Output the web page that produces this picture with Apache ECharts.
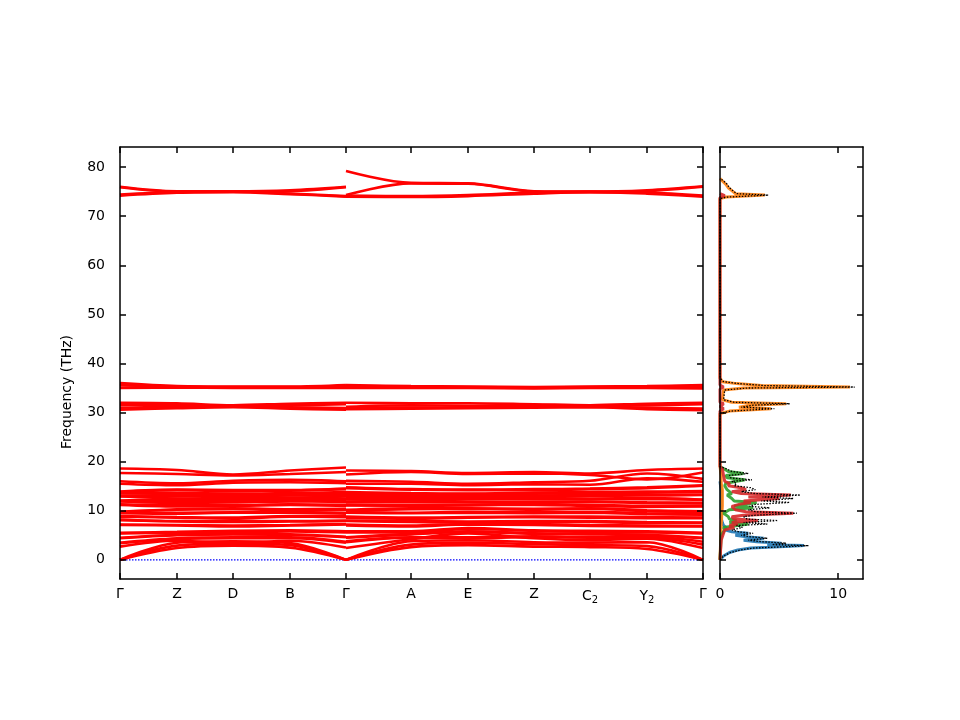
<!DOCTYPE html>
<html>
<head>
<meta charset="utf-8">
<script src="https://cdn.jsdelivr.net/npm/echarts@6/dist/echarts.min.js"></script>
<style>html,body{margin:0;padding:0;background:#fff}#c{width:960px;height:720px}</style>
</head>
<body>
<div id="c"></div>
<script>
// High-symmetry path positions (path distance units) and labels
const kPos = [0, 57, 113, 170, 226, 291, 348, 414, 470, 527, 583];
const kLabels = ['Γ', 'Z', 'D', 'B', 'Γ', 'A', 'E', 'Z', 'C|2', 'Y|2', 'Γ'];
const freqTicks = [0, 10, 20, 30, 40, 50, 60, 70, 80];
const dosTicks = [0, 10];

// Band frequencies (THz) at: Γ Z D B Γ(end seg1) | Γ(start seg2) A E Z C2 Y2 Γ
const bandsAcoustic = [
  [0, 2.4, 2.9, 2.5, 0,   0, 2.6, 3.0, 2.7, 2.6, 2.2, 0],
  [0, 2.9, 3.3, 3.0, 0,   0, 3.1, 3.5, 3.2, 3.0, 2.8, 0],
  [0, 3.5, 3.8, 3.4, 0,   0, 3.8, 4.0, 3.6, 3.5, 3.6, 0]
];
const bandsLow = [
  [2.7, 3.9, 3.4, 3.9, 2.5,   2.4, 4.2, 5.4, 4.4, 4.0, 4.3, 2.4],
  [3.4, 4.2, 4.4, 4.4, 3.5,   3.6, 4.5, 4.4, 4.6, 4.5, 4.5, 3.1],
  [3.5, 4.4, 4.6, 4.6, 3.7,   3.8, 4.6, 4.6, 4.8, 4.6, 4.7, 3.7],
  [4.4, 5.0, 5.2, 5.1, 4.6,   4.5, 5.2, 5.7, 5.3, 5.2, 5.0, 4.4],
  [4.5, 5.1, 5.3, 5.2, 4.7,   4.6, 5.3, 5.8, 5.4, 5.3, 5.1, 4.5],
  [5.4, 5.5, 5.6, 5.8, 5.6,   5.6, 5.6, 6.3, 5.9, 5.7, 5.6, 5.4],
  [5.5, 5.7, 5.9, 6.0, 5.8,   5.8, 5.8, 6.5, 6.0, 5.9, 5.8, 5.5]
];
const bandsMid = [
  [7.1, 7.0, 6.8, 7.0, 7.2,   7.0, 6.8, 7.2, 7.1, 6.9, 6.8, 6.8],
  [7.2, 7.1, 7.0, 7.1, 7.3,   7.2, 7.0, 7.3, 7.3, 7.1, 7.0, 6.9],
  [8.1, 7.8, 7.7, 7.8, 7.9,   7.9, 7.7, 7.6, 7.8, 7.7, 7.5, 7.5],
  [8.2, 7.9, 7.9, 7.9, 8.0,   8.0, 7.9, 7.8, 7.9, 7.9, 7.7, 7.6],
  [8.8, 8.6, 8.4, 8.8, 8.7,   8.6, 8.4, 8.6, 8.7, 8.6, 8.5, 8.5],
  [8.9, 8.7, 8.6, 8.9, 8.9,   8.8, 8.6, 8.7, 8.8, 8.8, 8.7, 8.6],
  [9.5, 9.4, 9.6, 9.6, 9.4,   9.6, 9.5, 9.6, 9.5, 9.6, 9.3, 9.2],
  [9.6, 9.6, 9.7, 9.7, 9.6,   9.8, 9.6, 9.8, 9.7, 9.8, 9.5, 9.3],
  [9.7, 10.2, 10.3, 10.1, 10.2, 10.0, 10.3, 10.4, 10.2, 10.4, 9.9, 9.8],
  [9.8, 10.3, 10.5, 10.3, 10.4, 10.2, 10.5, 10.5, 10.4, 10.5, 10.1, 9.9]
];
const bandsUpper = [
  [11.2, 10.9, 11.0, 11.2, 11.0,  11.1, 11.0, 11.1, 11.2, 11.0, 10.8, 10.9],
  [11.3, 11.1, 11.1, 11.3, 11.2,  11.2, 11.2, 11.2, 11.3, 11.2, 11.0, 11.0],
  [11.9, 11.6, 11.7, 11.9, 11.8,  11.7, 11.8, 11.7, 11.6, 11.8, 11.6, 11.5],
  [12.0, 11.8, 11.9, 12.0, 12.0,  11.9, 12.0, 11.9, 11.8, 11.9, 11.7, 11.6],
  [12.1, 12.3, 12.2, 12.4, 12.2,  12.3, 12.3, 12.4, 12.3, 12.3, 12.4, 12.2],
  [12.9, 12.5, 12.4, 12.6, 12.5,  12.6, 12.5, 12.5, 12.6, 12.5, 12.6, 12.3],
  [13.0, 12.9, 12.8, 12.7, 12.9,  12.9, 12.8, 12.8, 12.9, 13.0, 13.1, 13.2],
  [13.1, 13.1, 13.0, 13.1, 13.2,  13.2, 13.1, 13.0, 13.1, 13.2, 13.3, 13.3],
  [13.6, 13.4, 13.3, 13.4, 13.6,  13.6, 13.4, 13.4, 13.5, 13.6, 13.7, 13.9],
  [13.7, 13.6, 13.5, 13.6, 13.8,  13.8, 13.6, 13.5, 13.7, 13.8, 13.9, 14.0],
  [13.8, 14.2, 14.0, 14.1, 14.4,  14.6, 14.3, 14.2, 14.2, 14.4, 14.6, 15.1],
  [13.9, 14.3, 14.2, 14.2, 14.5,  14.8, 14.4, 14.3, 14.4, 14.5, 14.8, 15.2]
];
const bandsHigh = [
  [18.6, 18.3, 17.4, 18.2, 18.8,  18.2, 18.1, 17.7, 17.9, 17.6, 18.3, 18.6],
  [17.7, 17.5, 17.2, 17.5, 17.9,  17.4, 17.9, 17.5, 17.6, 17.3, 16.4, 17.8],
  [16.0, 15.6, 16.1, 16.3, 16.0,  16.1, 15.9, 15.5, 15.8, 16.1, 17.6, 16.5],
  [15.5, 15.2, 15.7, 15.8, 15.6,  15.5, 15.5, 15.2, 15.4, 15.3, 16.6, 15.9]
];
const bands31 = [
  [32.0, 31.9, 31.5, 31.8, 32.0,  32.0, 31.9, 31.9, 31.7, 31.5, 31.8, 32.0],
  [31.6, 31.6, 31.3, 31.5, 31.7,  31.2, 31.5, 31.4, 31.6, 31.3, 31.5, 31.7],
  [31.0, 31.2, 31.2, 31.1, 30.9,  31.0, 31.0, 31.1, 31.2, 31.2, 31.0, 30.8],
  [30.6, 30.9, 31.1, 30.8, 30.6,  30.7, 30.8, 30.9, 31.0, 31.1, 30.7, 30.5]
];
const bands35 = [
  [36.0, 35.4, 35.3, 35.3, 35.6,  35.6, 35.4, 35.3, 35.2, 35.3, 35.4, 35.6],
  [35.7, 35.3, 35.2, 35.2, 35.4,  35.4, 35.3, 35.2, 35.1, 35.2, 35.3, 35.4],
  [35.1, 35.2, 35.1, 35.1, 35.2,  35.2, 35.1, 35.1, 35.0, 35.1, 35.1, 35.1],
  [35.0, 35.1, 35.0, 35.0, 35.0,  35.0, 35.0, 35.0, 34.9, 35.0, 35.0, 34.9]
];
const bandsTop = [
  [76.0, 75.1, 75.1, 75.3, 76.0,  79.2, 76.8, 76.7, 75.1, 75.0, 75.3, 76.1],
  [75.9, 75.0, 75.0, 75.1, 75.9,  74.3, 76.7, 76.6, 75.0, 74.9, 75.1, 76.0],
  [74.4, 74.9, 75.0, 74.6, 74.1,  74.2, 74.1, 74.3, 74.8, 75.0, 74.8, 74.2],
  [74.2, 74.8, 74.9, 74.5, 74.0,  74.0, 73.9, 74.1, 74.6, 74.9, 74.6, 74.0]
];

// Phonon DOS: [frequency (THz), DOS]
const dosBlue = [[0,0],[0.8,0.3],[1.5,0.8],[2.0,1.5],[2.4,2.6],[2.7,5.5],[2.9,7.1],[3.1,4.0],[3.4,5.2],[3.7,3.1],[4.0,2.0],[4.4,3.7],[4.7,2.2],[5.0,1.3],[5.4,2.4],[5.7,1.0],[6.1,0.4],[6.6,0.5],[7.0,0.3],[7.6,0.2],[8.5,0.1],[10,0.1],[12,0.1],[14,0.1],[16,0]];
const dosRed = [[0,0],[4,0.1],[5.4,0.3],[6.1,0.4],[6.6,1.2],[7.0,0.8],[7.3,1.5],[7.6,1.0],[8.0,3.2],[8.3,1.2],[8.8,1.0],[9.1,2.0],[9.5,6.2],[9.8,2.2],[10.2,1.3],[10.6,1.2],[10.9,1.0],[11.3,1.6],[11.7,2.6],[12.0,2.0],[12.5,5.0],[12.8,2.4],[13.2,6.0],[13.5,1.8],[13.9,1.0],[14.3,2.2],[14.7,1.8],[15.1,0.7],[15.6,0.8],[16.0,0.4],[16.3,0.5],[17.2,0.3],[17.6,0.4],[18.6,0.2],[19,0],[30.3,0],[30.8,0.3],[31.2,0],[31.5,0],[31.8,0.3],[32.1,0],[34.8,0],[35.2,0.3],[35.6,0],[73.8,0],[74.2,0.4],[74.6,0]];
const dosGreen = [[0,0],[5,0.1],[6.1,0.4],[6.6,0.3],[7.0,0.4],[7.3,2.4],[7.6,0.8],[8.0,1.4],[8.3,0.8],[8.8,0.7],[9.1,0.8],[9.5,0.3],[10.2,0.8],[10.6,2.8],[10.9,1.2],[11.3,1.2],[11.7,3.1],[12.0,1.2],[12.5,1.0],[12.8,1.0],[13.2,0.6],[13.5,1.0],[14.3,0.6],[15.1,0.4],[15.6,0.5],[16.0,0.5],[16.3,2.1],[16.7,0.6],[17.2,0.5],[17.6,2.0],[18.0,0.7],[18.6,0.3],[19,0]];
const dosOrange = [[0,0],[7,0.1],[11,0.2],[13,0.2],[14.3,0.2],[15.6,0.1],[17,0.1],[19,0],[29.8,0],[30.3,0.8],[30.8,4.3],[31.1,1.6],[31.5,2.6],[31.8,5.6],[32.1,1.0],[32.6,0.2],[34.6,0.3],[35.0,2.0],[35.2,11.0],[35.5,3.5],[35.9,1.4],[36.3,0.2],[37,0],[73.6,0],[73.9,0.5],[74.3,3.8],[74.6,1.3],[75.2,1.0],[75.8,0.7],[76.5,0.5],[77.2,0.2],[77.7,0]];
const dosTotal = [[0,0],[0.8,0.3],[1.5,0.9],[2.0,1.7],[2.4,2.8],[2.7,5.8],[2.9,7.5],[3.1,4.4],[3.4,5.6],[3.7,3.5],[4.0,2.4],[4.4,4.0],[4.7,2.6],[5.0,1.8],[5.4,2.8],[5.7,1.6],[6.1,1.0],[6.6,1.9],[7.0,1.4],[7.3,4.0],[7.6,2.0],[8.0,4.9],[8.3,2.3],[8.8,2.0],[9.1,3.0],[9.5,6.5],[9.8,3.0],[10.2,2.4],[10.6,4.2],[10.9,2.5],[11.3,3.0],[11.7,5.9],[12.0,3.5],[12.5,6.2],[12.8,3.6],[13.2,6.8],[13.5,3.0],[13.9,1.8],[14.3,3.0],[14.7,2.6],[15.1,1.2],[15.6,1.4],[16.0,1.0],[16.3,2.7],[16.7,0.9],[17.2,0.8],[17.6,2.4],[18.0,1.0],[18.6,0.5],[19.0,0],[29.8,0],[30.3,0.9],[30.8,4.6],[31.1,1.8],[31.5,2.8],[31.8,5.9],[32.1,1.2],[32.6,0.3],[34.6,0.4],[35.0,2.3],[35.2,11.4],[35.5,3.8],[35.9,1.6],[36.3,0.3],[37.0,0],[73.6,0],[73.9,0.6],[74.3,4.1],[74.6,1.4],[75.2,1.1],[75.8,0.8],[76.5,0.6],[77.2,0.3],[77.7,0]];

const FONT = 'DejaVu Sans';
const chart = echarts.init(document.getElementById('c'), null, {renderer: 'canvas'});

const allBands = [].concat(bandsAcoustic, bandsLow, bandsMid, bandsUpper, bandsHigh, bands31, bands35, bandsTop);
const series = [];
allBands.forEach(b => {
  const seg1 = [0,1,2,3,4].map(i => [kPos[i], b[i]]);
  const seg2 = [4,5,6,7,8,9,10].map((p, j) => [kPos[p], b[5 + j]]);
  [seg1, seg2].forEach(seg => series.push({
    type: 'line', xAxisIndex: 0, yAxisIndex: 0, data: seg, smooth: 0.35,
    showSymbol: false, silent: true, lineStyle: {color: '#ff0000', width: 2.6}, z: 3
  }));
});
// zero line
series.push({type: 'line', xAxisIndex: 0, yAxisIndex: 0, data: [[kPos[0], 0], [kPos[10], 0]],
  showSymbol: false, silent: true, lineStyle: {color: '#0000ff', width: 1.2, type: [1.5, 1.5]}, z: 2});

const dosSets = [[dosBlue, '#1f77b4'], [dosOrange, '#ff7f0e'], [dosGreen, '#2ca02c'], [dosRed, '#d62728']];
dosSets.forEach(([d, c]) => series.push({
  type: 'line', xAxisIndex: 2, yAxisIndex: 2, data: d.map(p => [p[1], p[0]]),
  showSymbol: false, silent: true, lineStyle: {color: c, width: 3, opacity: 0.9}, z: 3
}));
series.push({type: 'line', xAxisIndex: 2, yAxisIndex: 2, data: dosTotal.map(p => [p[1], p[0]]),
  showSymbol: false, silent: true, lineStyle: {color: '#000', width: 1.3, type: [1.5, 1.5]}, z: 4});

const axLine = {show: true, onZero: false, lineStyle: {color: '#000', width: 1.5}};
const tickIn = (vals) => ({show: true, inside: true, length: 6, customValues: vals, lineStyle: {color: '#000', width: 1.5}});
const YMIN = -3.9, YMAX = 84.1;

function kLabel(v) {
  const i = kPos.indexOf(v);
  const s = kLabels[i];
  if (s.indexOf('|') >= 0) { const p = s.split('|'); return '{m|' + p[0] + '}{s|' + p[1] + '}'; }
  return '{m|' + s + '}';
}

chart.setOption({
  animation: false,
  backgroundColor: '#fff',
  grid: [
    {left: 120, top: 147, width: 583, height: 432, show: false},
    {left: 720, top: 147, width: 143, height: 432, show: false}
  ],
  xAxis: [
    {gridIndex: 0, type: 'value', min: 0, max: 583, position: 'bottom', axisLine: axLine, z: 10,
     axisTick: tickIn(kPos), splitLine: {show: false},
     axisLabel: {customValues: kPos, margin: 8, showMinLabel: true, showMaxLabel: true, formatter: kLabel,
       rich: {m: {fontFamily: FONT, fontSize: 14, color: '#000'},
              s: {fontFamily: FONT, fontSize: 10, color: '#000', verticalAlign: 'bottom', padding: [8, 0, 0, 0]}}}},
    {gridIndex: 0, type: 'value', min: 0, max: 583, position: 'top', axisLine: axLine, z: 10,
     axisTick: tickIn(kPos), axisLabel: {show: false}, splitLine: {show: false}},
    {gridIndex: 1, type: 'value', min: 0, max: 12.1, position: 'bottom', axisLine: axLine, z: 10,
     axisTick: tickIn(dosTicks), splitLine: {show: false},
     axisLabel: {customValues: dosTicks, margin: 8, showMinLabel: true, fontFamily: FONT, fontSize: 14, color: '#000'}},
    {gridIndex: 1, type: 'value', min: 0, max: 12.1, position: 'top', axisLine: axLine, z: 10,
     axisTick: tickIn(dosTicks), axisLabel: {show: false}, splitLine: {show: false}}
  ],
  yAxis: [
    {gridIndex: 0, type: 'value', min: YMIN, max: YMAX, position: 'left', axisLine: axLine, z: 10,
     axisTick: tickIn(freqTicks), splitLine: {show: false},
     axisLabel: {customValues: freqTicks, margin: 15, fontFamily: FONT, fontSize: 14, color: '#000'},
     name: 'Frequency (THz)', nameLocation: 'middle', nameGap: 46,
     nameTextStyle: {fontFamily: FONT, fontSize: 14, color: '#000', padding: [0, 58, 0, 0]}},
    {gridIndex: 0, type: 'value', min: YMIN, max: YMAX, position: 'right', axisLine: axLine, z: 10,
     axisTick: tickIn(freqTicks), axisLabel: {show: false}, splitLine: {show: false}},
    {gridIndex: 1, type: 'value', min: YMIN, max: YMAX, position: 'left', axisLine: axLine, z: 10,
     axisTick: tickIn(freqTicks), axisLabel: {show: false}, splitLine: {show: false}},
    {gridIndex: 1, type: 'value', min: YMIN, max: YMAX, position: 'right', axisLine: axLine, z: 10,
     axisTick: tickIn(freqTicks), axisLabel: {show: false}, splitLine: {show: false}}
  ],
  series: series
});
</script>
</body>
</html>
